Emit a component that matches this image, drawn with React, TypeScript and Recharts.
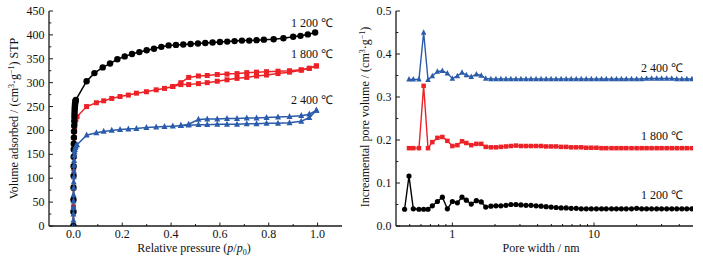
import React from 'react';
import { ScatterChart, Scatter, XAxis, YAxis } from 'recharts';

// ---------- Left panel: N2 isotherms ----------
const blackP = [0, 0.0001, 0.0002, 0.0003, 0.0005, 0.0007, 0.001, 0.0013, 0.0016, 0.002, 0.0025, 0.003, 0.0035, 0.004, 0.0045, 0.005, 0.0055, 0.006, 0.0065, 0.007, 0.008, 0.009, 0.01,
  0.054, 0.086, 0.12, 0.15, 0.18, 0.21, 0.24, 0.27, 0.30, 0.33, 0.36, 0.39, 0.42, 0.45, 0.48, 0.51, 0.54, 0.57, 0.60, 0.63, 0.66, 0.69, 0.72, 0.75, 0.78, 0.82, 0.86, 0.90, 0.93, 0.96, 0.99];
const blackV = [0, 30, 55, 80, 105, 125, 145, 160, 172, 185, 198, 210, 220, 228, 235, 241, 246, 250, 254, 257, 260, 262, 264,
  303, 320, 332, 340, 349, 355, 360, 364, 368, 371, 375, 378, 379, 380, 381, 382, 383, 384, 385, 386, 387, 388, 388, 389, 390, 391, 393, 396, 398, 401, 405];

const redAdsP = [0, 0.0002, 0.0005, 0.001, 0.0015, 0.002, 0.003, 0.004, 0.005, 0.007, 0.01, 0.015,
  0.054, 0.094, 0.124, 0.157, 0.191, 0.225, 0.258, 0.299, 0.339, 0.373, 0.407, 0.44, 0.472, 0.512, 0.548, 0.589, 0.629, 0.67, 0.71, 0.75, 0.791, 0.838, 0.885, 0.933, 0.966, 0.995];
const redAdsV = [0, 40, 80, 120, 145, 165, 185, 198, 207, 216, 223, 229,
  250, 258, 262, 267, 271, 274, 278, 281, 285, 288, 292, 296, 296, 298, 300, 303, 306, 309, 311, 314, 316, 319, 322, 326, 330, 335];
const redDesP = [0.995, 0.966, 0.933, 0.885, 0.838, 0.791, 0.75, 0.71, 0.67, 0.629, 0.589, 0.548, 0.512, 0.472, 0.44, 0.407];
const redDesV = [335, 330, 327, 325, 324, 323, 322, 321, 319, 318, 317, 315, 314, 311, 300, 292];

const blueAdsP = [0, 0.0001, 0.0002, 0.0003, 0.0005, 0.0007, 0.001, 0.0013, 0.0016, 0.002, 0.0025, 0.003, 0.004, 0.005, 0.006, 0.008, 0.01, 0.015,
  0.054, 0.094, 0.124, 0.157, 0.191, 0.225, 0.258, 0.299, 0.339, 0.373, 0.407, 0.44, 0.472, 0.512, 0.548, 0.589, 0.629, 0.67, 0.71, 0.75, 0.791, 0.838, 0.885, 0.933, 0.966, 0.995];
const blueAdsV = [0, 12, 25, 38, 52, 65, 80, 92, 103, 115, 127, 137, 148, 155, 160, 164, 167, 170,
  190, 195, 198, 200, 202, 203, 204, 206, 207, 208, 209, 210, 211, 212, 212, 213, 213, 213, 214, 214, 215, 215, 216, 219, 227, 242];
const blueDesP = [0.995, 0.966, 0.933, 0.885, 0.838, 0.791, 0.75, 0.71, 0.67, 0.629, 0.589, 0.548, 0.512, 0.472, 0.44];
const blueDesV = [242, 234, 231, 229, 228, 227, 226, 226, 225, 225, 224, 224, 223, 213, 210];

const leftXTicks = [0, 0.1, 0.2, 0.3, 0.4, 0.5, 0.6, 0.7, 0.8, 0.9, 1.0];
const leftYTicks = [0, 25, 50, 75, 100, 125, 150, 175, 200, 225, 250, 275, 300, 325, 350, 375, 400, 425, 450];

// ---------- Right panel: pore size distribution ----------
const poreWidth = [0.46, 0.494, 0.53, 0.581, 0.627, 0.673, 0.722, 0.784, 0.85, 0.922, 1.0, 1.085, 1.17, 1.255, 1.36, 1.477, 1.6,
  1.72, 1.87, 2.03, 2.2, 2.39, 2.59, 2.81, 3.05, 3.31, 3.59, 3.9, 4.23, 4.59, 4.98, 5.4, 5.86, 6.36, 6.9, 7.49, 8.13,
  8.82, 9.57, 10.4, 11.3, 12.2, 13.3, 14.4, 15.6, 16.9, 18.4, 20.0, 21.7, 23.5, 25.5, 27.7, 30.0, 32.6, 35.4, 38.4, 41.7, 45.2, 49.1];
const pv1200 = [0.039, 0.116, 0.040, 0.039, 0.039, 0.039, 0.047, 0.057, 0.067, 0.040, 0.057, 0.054, 0.067, 0.060, 0.051, 0.059, 0.056,
  0.044, 0.046, 0.047, 0.047, 0.048, 0.050, 0.050, 0.049, 0.048, 0.048, 0.047, 0.046, 0.045, 0.044, 0.043, 0.042, 0.042, 0.041, 0.041, 0.040,
  0.040, 0.040, 0.040, 0.040, 0.040, 0.040, 0.040, 0.040, 0.040, 0.040, 0.041, 0.040, 0.040, 0.040, 0.040, 0.040, 0.040, 0.040, 0.040, 0.040, 0.040, 0.040];
const pv1800 = [null, 0.181, 0.181, 0.181, 0.326, 0.181, 0.195, 0.205, 0.207, 0.198, 0.186, 0.188, 0.197, 0.193, 0.188, 0.191, 0.191,
  0.184, 0.183, 0.183, 0.184, 0.185, 0.186, 0.187, 0.186, 0.186, 0.186, 0.186, 0.186, 0.185, 0.185, 0.185, 0.184, 0.184, 0.183, 0.183, 0.183,
  0.182, 0.182, 0.182, 0.181, 0.181, 0.181, 0.181, 0.181, 0.181, 0.181, 0.181, 0.181, 0.181, 0.181, 0.181, 0.181, 0.181, 0.181, 0.181, 0.181, 0.181, 0.181];
const pv2400 = [null, 0.341, 0.341, 0.341, 0.450, 0.340, 0.349, 0.359, 0.361, 0.355, 0.343, 0.349, 0.357, 0.351, 0.347, 0.353, 0.350,
  0.343, 0.342, 0.342, 0.342, 0.342, 0.342, 0.342, 0.342, 0.342, 0.342, 0.342, 0.342, 0.342, 0.342, 0.342, 0.342, 0.342, 0.342, 0.342, 0.342,
  0.342, 0.342, 0.342, 0.342, 0.342, 0.342, 0.342, 0.342, 0.342, 0.342, 0.342, 0.342, 0.343, 0.343, 0.343, 0.343, 0.343, 0.343, 0.342, 0.342, 0.342, 0.342];

const rightXTicks = [0.5, 0.6, 0.7, 0.8, 0.9, 1, 2, 3, 4, 5, 6, 7, 8, 9, 10, 20, 30, 40];
const rightYTicks = [0, 0.05, 0.1, 0.15, 0.2, 0.25, 0.3, 0.35, 0.4, 0.45, 0.5];

const seriesLabels = ['1 200 ℃', '1 800 ℃', '2 400 ℃'];

const BLACK = '#000000';
const RED = '#ec2227';
const BLUE = '#2a5caa';
const AXIS = '#1a1a1a';
const FONT = '"Liberation Serif", "Times New Roman", serif';
const FS = 12;

const zip = (xs: number[], ys: (number | null)[]) =>
  xs.map((x, i) => ({ x, y: ys[i] })).filter((d) => d.y !== null && d.y !== undefined);

const blackIso = zip(blackP, blackV);
const redAds = zip(redAdsP, redAdsV);
const redDes = zip(redDesP, redDesV);
const blueAds = zip(blueAdsP, blueAdsV);
const blueDes = zip(blueDesP, blueDesV);
const psd1200 = zip(poreWidth, pv1200);
const psd1800 = zip(poreWidth, pv1800);
const psd2400 = zip(poreWidth, pv2400);

const axisLine = { stroke: AXIS, strokeWidth: 1.3 };

const makeBottomTick = (isMajor: (v: number) => boolean, label: (v: number) => string) => (props: any) => {
  const { x, y, payload } = props;
  const v = payload.value;
  const major = isMajor(v);
  return (
    <g>
      <line x1={x} x2={x} y1={y} y2={y - (major ? 3.5 : 2)} stroke={AXIS} strokeWidth={1} />
      {major ? (
        <text x={x} y={y + 12} textAnchor="middle" fontFamily={FONT} fontSize={FS} fill="#111">
          {label(v)}
        </text>
      ) : null}
    </g>
  );
};

const makeLeftTick = (isMajor: (v: number) => boolean, label: (v: number) => string) => (props: any) => {
  const { x, y, payload } = props;
  const v = payload.value;
  const major = isMajor(v);
  return (
    <g>
      <line x1={x} x2={x + (major ? 4 : 2.3)} y1={y} y2={y} stroke={AXIS} strokeWidth={1} />
      {major ? (
        <text x={x - 4.5} y={y + 4} textAnchor="end" fontFamily={FONT} fontSize={FS} fill="#111">
          {label(v)}
        </text>
      ) : null}
    </g>
  );
};

const Dot = (color: string, r: number) => (p: any) => <circle cx={p.cx} cy={p.cy} r={r} fill={color} />;
const Sq = (color: string, s: number) => (p: any) => <rect x={p.cx - s / 2} y={p.cy - s / 2} width={s} height={s} fill={color} />;
const Tri = (color: string, s: number) => (p: any) => (
  <polygon
    points={`${p.cx},${p.cy - s * 0.6} ${p.cx - s / 2},${p.cy + s * 0.4} ${p.cx + s / 2},${p.cy + s * 0.4}`}
    fill={color}
  />
);

const lp = makeBottomTick((v) => Math.round(v * 10) % 2 === 0, (v) => v.toFixed(1));
const lv = makeLeftTick((v) => v % 50 === 0, (v) => String(v));
const rp = makeBottomTick((v) => v === 1 || v === 10, (v) => String(v));
const rv = makeLeftTick((v) => Math.round(v * 100) % 10 === 0, (v) => v.toFixed(1));

function LeftChart() {
  return (
    <ScatterChart width={350} height={261} margin={{ top: 11, right: 8, bottom: 0, left: 0 }}>
      <XAxis xAxisId="b" type="number" dataKey="x" domain={[-0.1, 1.1]} ticks={leftXTicks} interval={0}
        tickLine={false} tickSize={0} tickMargin={0} tick={lp} height={35} axisLine={axisLine} allowDataOverflow />
      <XAxis xAxisId="t" orientation="top" type="number" domain={[0, 1]} tick={false} tickLine={false} height={0} axisLine={axisLine} />
      <YAxis yAxisId="l" type="number" dataKey="y" domain={[0, 450]} ticks={leftYTicks} interval={0}
        tickLine={false} tickSize={0} tickMargin={0} tick={lv} width={49} axisLine={axisLine} allowDataOverflow />
      <YAxis yAxisId="r" orientation="right" type="number" domain={[0, 1]} tick={false} tickLine={false} width={0} axisLine={axisLine} />
      <Scatter xAxisId="b" yAxisId="l" data={redAds} line={{ stroke: RED, strokeWidth: 1.5 }} lineJointType="linear" shape={Sq(RED, 5)} isAnimationActive={false} />
      <Scatter xAxisId="b" yAxisId="l" data={redDes} line={{ stroke: RED, strokeWidth: 1.5 }} lineJointType="linear" shape={Sq(RED, 5)} isAnimationActive={false} />
      <Scatter xAxisId="b" yAxisId="l" data={blackIso} line={{ stroke: BLACK, strokeWidth: 1.5 }} lineJointType="linear" shape={Dot(BLACK, 3.2)} isAnimationActive={false} />
      <Scatter xAxisId="b" yAxisId="l" data={blueAds} line={{ stroke: BLUE, strokeWidth: 1.5 }} lineJointType="linear" shape={Tri(BLUE, 6)} isAnimationActive={false} />
      <Scatter xAxisId="b" yAxisId="l" data={blueDes} line={{ stroke: BLUE, strokeWidth: 1.5 }} lineJointType="linear" shape={Tri(BLUE, 6)} isAnimationActive={false} />
    </ScatterChart>
  );
}

function RightChart() {
  return (
    <ScatterChart width={353} height={261} margin={{ top: 11, right: 10, bottom: 0, left: 0 }}>
      <XAxis xAxisId="b" type="number" dataKey="x" scale="log" domain={[0.4, 50]} ticks={rightXTicks} interval={0}
        tickLine={false} tickSize={0} tickMargin={0} tick={rp} height={35} axisLine={axisLine} allowDataOverflow />
      <XAxis xAxisId="t" orientation="top" type="number" domain={[0, 1]} tick={false} tickLine={false} height={0} axisLine={axisLine} />
      <YAxis yAxisId="l" type="number" dataKey="y" domain={[0, 0.5]} ticks={rightYTicks} interval={0}
        tickLine={false} tickSize={0} tickMargin={0} tick={rv} width={46} axisLine={axisLine} allowDataOverflow />
      <YAxis yAxisId="r" orientation="right" type="number" domain={[0, 1]} tick={false} tickLine={false} width={0} axisLine={axisLine} />
      <Scatter xAxisId="b" yAxisId="l" data={psd1200} line={{ stroke: BLACK, strokeWidth: 1.4 }} lineJointType="linear" shape={Dot(BLACK, 2.6)} isAnimationActive={false} />
      <Scatter xAxisId="b" yAxisId="l" data={psd1800} line={{ stroke: RED, strokeWidth: 1.4 }} lineJointType="linear" shape={Sq(RED, 4.5)} isAnimationActive={false} />
      <Scatter xAxisId="b" yAxisId="l" data={psd2400} line={{ stroke: BLUE, strokeWidth: 1.4 }} lineJointType="linear" shape={Tri(BLUE, 5.5)} isAnimationActive={false} />
    </ScatterChart>
  );
}

export default function App() {
  return (
    <div style={{ position: 'fixed', left: 0, top: 0, width: 703, height: 261, background: '#fff' }}>
      <div style={{ position: 'absolute', left: 0, top: 0 }}>
        <LeftChart />
      </div>
      <div style={{ position: 'absolute', left: 350, top: 0 }}>
        <RightChart />
      </div>
      <svg width={703} height={261} style={{ position: 'absolute', left: 0, top: 0, pointerEvents: 'none' }}
        fontFamily={FONT} fontSize={FS} fill="#111">
        {/* left titles */}
        <text transform="rotate(-90)" x={-118.5} y={17.5} textAnchor="middle">
          <tspan>Volume adsorbed / (cm</tspan>
          <tspan dy={-4} fontSize={8}>3</tspan>
          <tspan dy={4}>·g</tspan>
          <tspan dy={-4} fontSize={8}>−1</tspan>
          <tspan dy={4}>) STP</tspan>
        </text>
        <text x={194} y={251.5} textAnchor="middle">
          <tspan>Relative pressure (</tspan>
          <tspan fontStyle="italic">p</tspan>
          <tspan>/</tspan>
          <tspan fontStyle="italic">p</tspan>
          <tspan dy={3} fontSize={8}>0</tspan>
          <tspan dy={-3}>)</tspan>
        </text>
        <text x={333} y={27} textAnchor="end">{seriesLabels[0]}</text>
        <text x={333} y={58} textAnchor="end">{seriesLabels[1]}</text>
        <text x={333} y={104} textAnchor="end">{seriesLabels[2]}</text>
        {/* right titles */}
        <text transform="rotate(-90)" x={-117} y={369} textAnchor="middle">
          <tspan>Increamental pore volume / (cm</tspan>
          <tspan dy={-4} fontSize={8}>3</tspan>
          <tspan dy={4}>·g</tspan>
          <tspan dy={-4} fontSize={8}>−1</tspan>
          <tspan dy={4}>)</tspan>
        </text>
        <text x={541} y={251.5} textAnchor="middle">Pore width / nm</text>
        <text x={683} y={72} textAnchor="end">{seriesLabels[2]}</text>
        <text x={683} y={140} textAnchor="end">{seriesLabels[1]}</text>
        <text x={683} y={199} textAnchor="end">{seriesLabels[0]}</text>
      </svg>
    </div>
  );
}
